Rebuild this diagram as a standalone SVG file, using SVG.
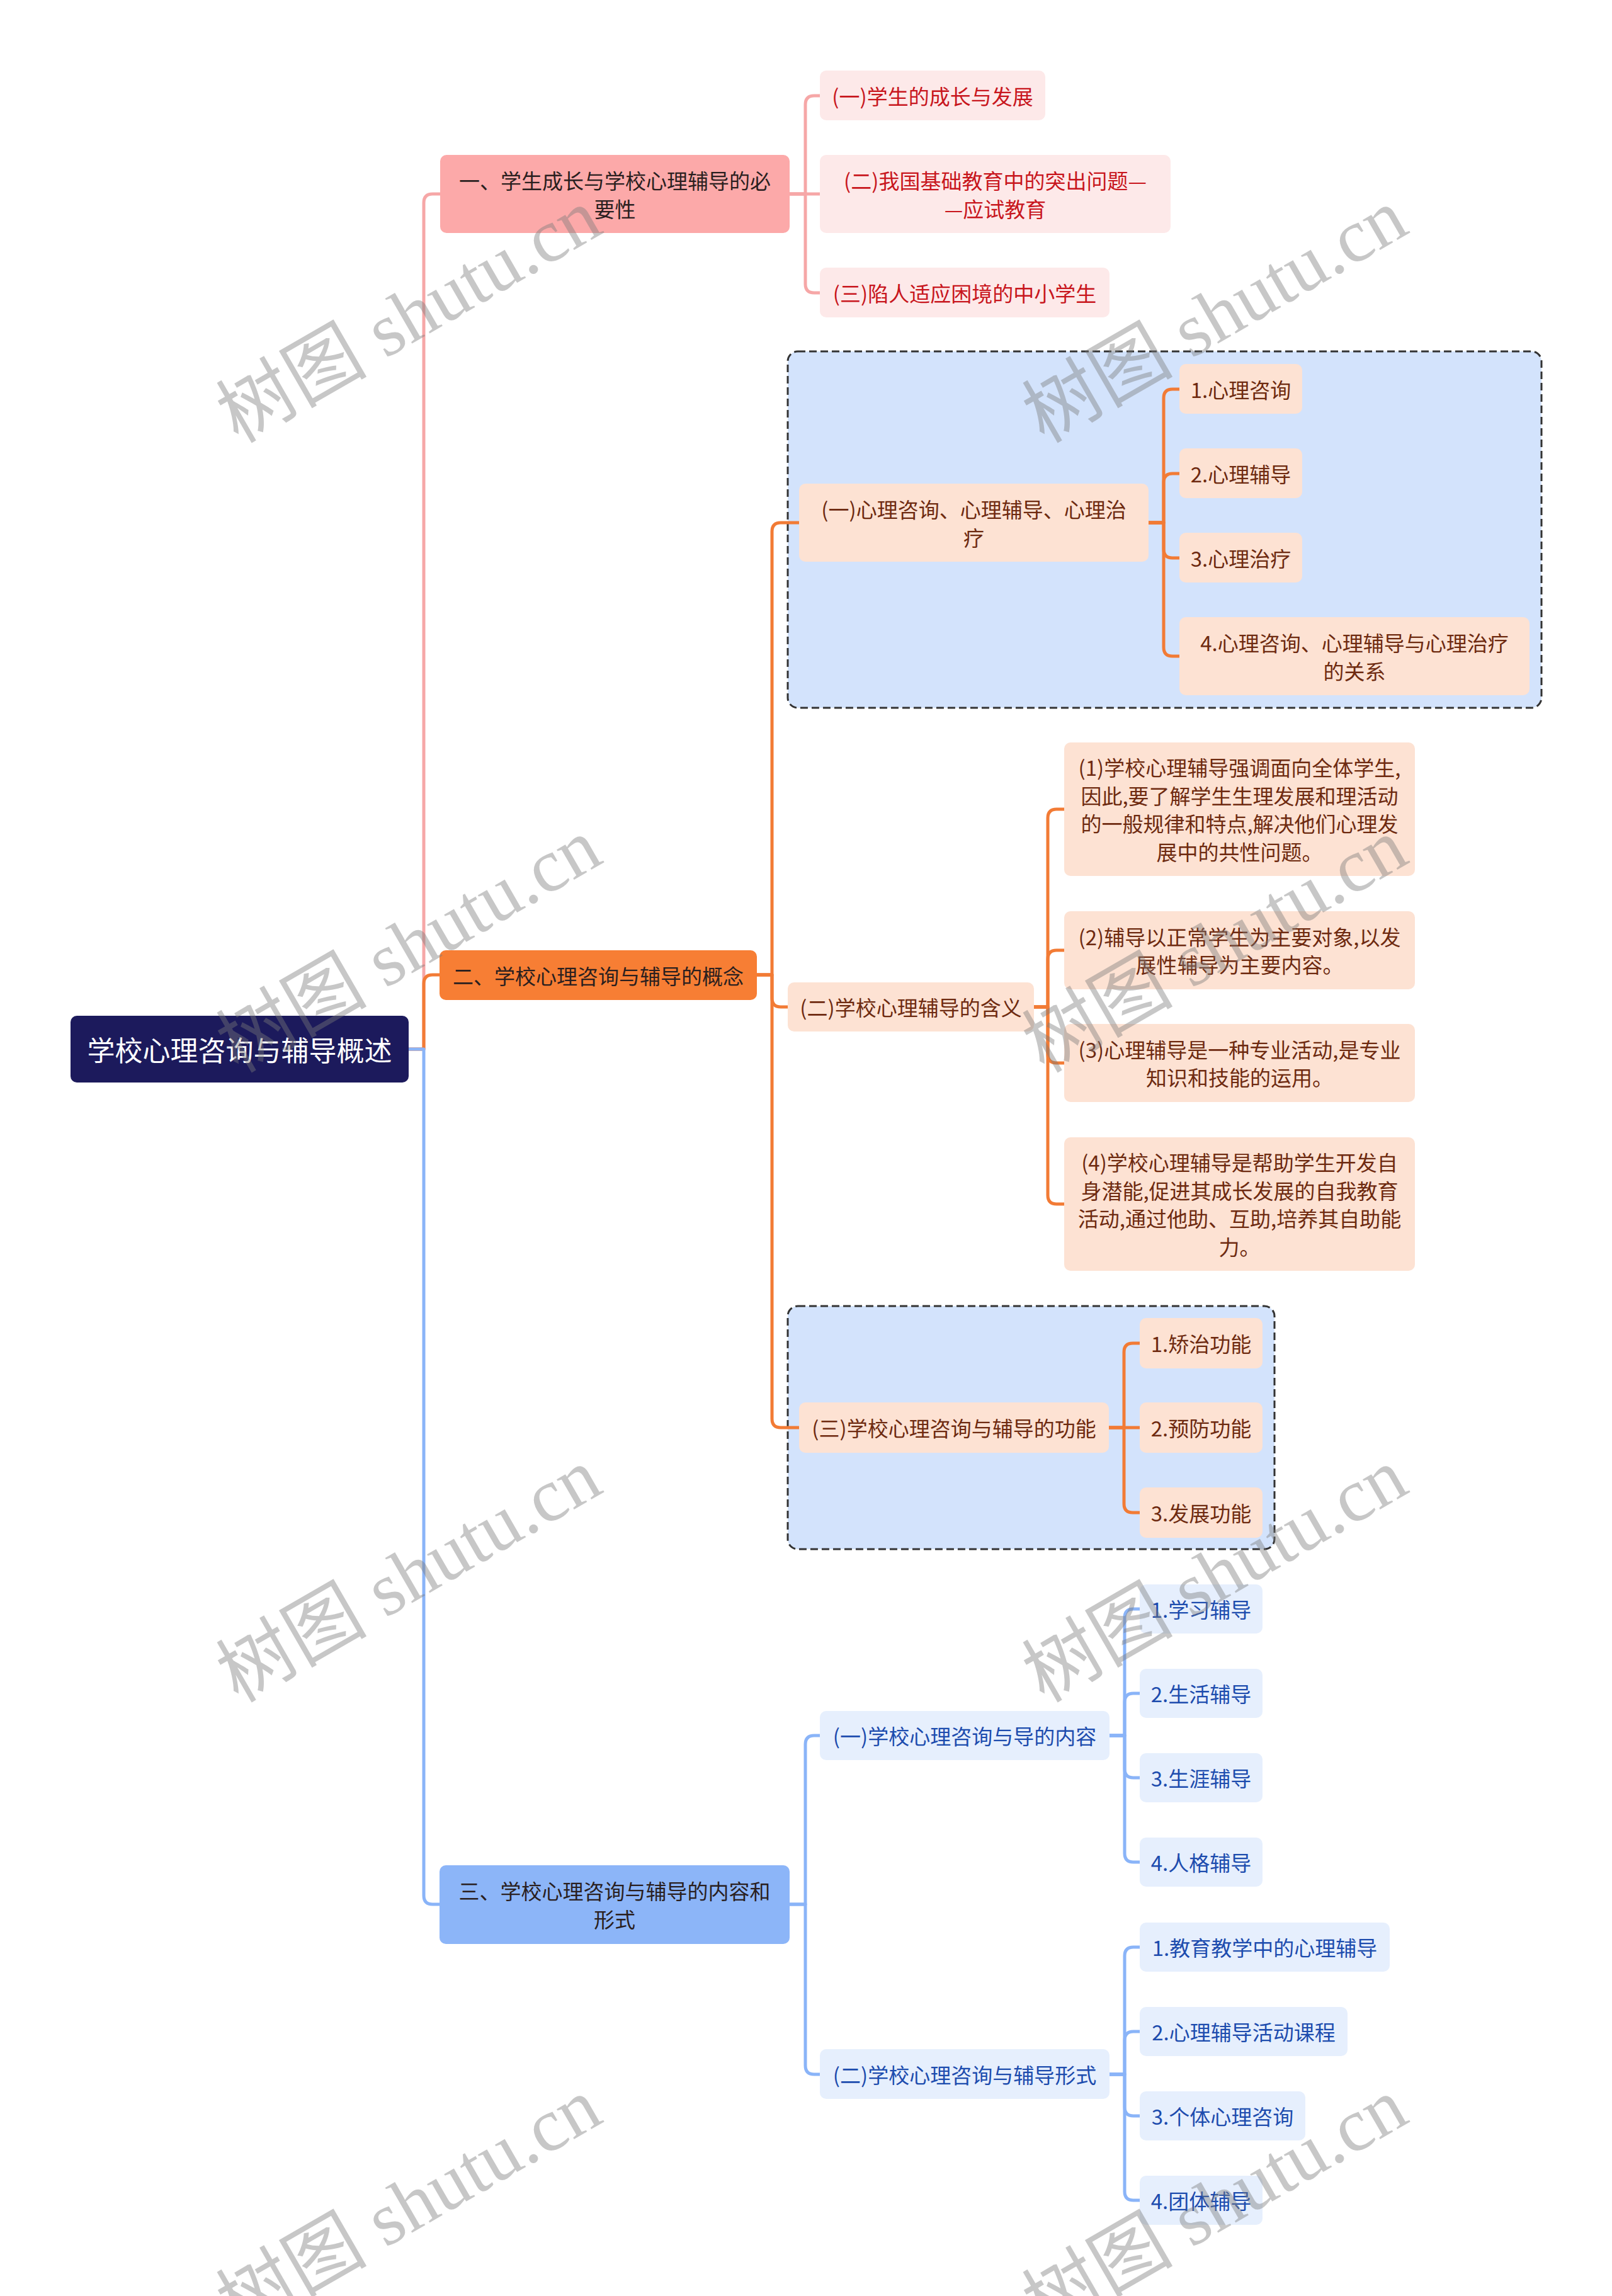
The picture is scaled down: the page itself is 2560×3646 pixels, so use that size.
<svg xmlns="http://www.w3.org/2000/svg" width="2560" height="3646" viewBox="0 0 2560 3646">
<style>
text{font-family:"Noto Sans CJK SC","Noto Sans",sans-serif;font-size:33px;text-anchor:middle;dominant-baseline:central}
.root rect{fill:#1c1a5c}
.root text{fill:#ffffff;font-size:44px}
.b1 rect{fill:#fca9a9}
.b2 rect{fill:#f77e34}
.b3 rect{fill:#8cb5f8}
.b1 text,.b2 text,.b3 text{fill:#2a1f1f}
.r rect{fill:#fde9e9}
.r text{fill:#c8161d}
.o rect{fill:#fde2d3}
.o text{fill:#6e2a10}
.u rect{fill:#e6effd}
.u text{fill:#1d4cae}
.box{fill:#d3e3fc;stroke:#333333;stroke-width:3;stroke-dasharray:12 6}
.lk{fill:none;stroke-width:5;stroke-linejoin:round}
.lp{stroke:#f6a7a7}
.lo{stroke:#f27b35}
.lb{stroke:#8ab4f8}
.wm text{font-family:"Liberation Serif","Noto Sans CJK SC",serif;font-size:120px;fill:#7a7a7a;fill-opacity:0.42;text-anchor:start;dominant-baseline:auto}
</style>
<rect width="2560" height="3646" fill="#ffffff"/>
<g id="containers">
<rect class="box" x="1251" y="558" width="1197" height="566" rx="16"/>
<rect class="box" x="1251" y="2074" width="773" height="386" rx="16"/>
</g>
<g id="connectors">
<path class="lk lp" d="M649 1666 H673 V322 Q673 308 687 308 H699"/>
<path class="lk lo" d="M649 1666 H673 V1562 Q673 1548 687 1548 H698"/>
<path class="lk lb" d="M649 1666 H673 V3010 Q673 3024 687 3024 H698"/>
<path class="lk lp" d="M1254 308 H1279 V166 Q1279 152 1293 152 H1302"/>
<path class="lk lp" d="M1254 308 H1302"/>
<path class="lk lp" d="M1254 308 H1279 V451 Q1279 465 1293 465 H1302"/>
<path class="lk lo" d="M1202 1548 H1226 V844 Q1226 830 1240 830 H1269"/>
<path class="lk lo" d="M1202 1548 H1226 V1585 Q1226 1599 1240 1599 H1251"/>
<path class="lk lo" d="M1202 1548 H1226 V2253 Q1226 2267 1240 2267 H1269"/>
<path class="lk lo" d="M1824 830 H1848 V632 Q1848 618 1862 618 H1873"/>
<path class="lk lo" d="M1824 830 H1848 V766 Q1848 752 1862 752 H1873"/>
<path class="lk lo" d="M1824 830 H1848 V872 Q1848 886 1862 886 H1873"/>
<path class="lk lo" d="M1824 830 H1848 V1028 Q1848 1042 1862 1042 H1873"/>
<path class="lk lo" d="M1642 1599 H1664 V1299 Q1664 1285 1678 1285 H1690"/>
<path class="lk lo" d="M1642 1599 H1664 V1523 Q1664 1509 1678 1509 H1690"/>
<path class="lk lo" d="M1642 1599 H1664 V1674 Q1664 1688 1678 1688 H1690"/>
<path class="lk lo" d="M1642 1599 H1664 V1898 Q1664 1912 1678 1912 H1690"/>
<path class="lk lo" d="M1761 2267 H1785 V2147 Q1785 2133 1799 2133 H1810"/>
<path class="lk lo" d="M1761 2267 H1810"/>
<path class="lk lo" d="M1761 2267 H1785 V2388 Q1785 2402 1799 2402 H1810"/>
<path class="lk lb" d="M1254 3024 H1279 V2770 Q1279 2756 1293 2756 H1302"/>
<path class="lk lb" d="M1254 3024 H1279 V3280 Q1279 3294 1293 3294 H1302"/>
<path class="lk lb" d="M1762 2756 H1786 V2569 Q1786 2555 1800 2555 H1810"/>
<path class="lk lb" d="M1762 2756 H1786 V2703 Q1786 2689 1800 2689 H1810"/>
<path class="lk lb" d="M1762 2756 H1786 V2809 Q1786 2823 1800 2823 H1810"/>
<path class="lk lb" d="M1762 2756 H1786 V2943 Q1786 2957 1800 2957 H1810"/>
<path class="lk lb" d="M1762 3294 H1786 V3106 Q1786 3092 1800 3092 H1810"/>
<path class="lk lb" d="M1762 3294 H1786 V3240 Q1786 3226 1800 3226 H1810"/>
<path class="lk lb" d="M1762 3294 H1786 V3346 Q1786 3360 1800 3360 H1810"/>
<path class="lk lb" d="M1762 3294 H1786 V3480 Q1786 3494 1800 3494 H1810"/>
</g>
<g id="root" class="root"><rect x="112" y="1613" width="537" height="106" rx="10"/><text x="380.5" y="1666">学校心理咨询与辅导概述</text></g>
<g id="b1" class="b1"><rect x="699" y="246" width="555" height="124" rx="10"/><text x="976.5" y="286">一、学生成长与学校心理辅导的必</text><text x="976.5" y="331">要性</text></g>
<g id="b2" class="b2"><rect x="698" y="1509" width="504" height="79" rx="10"/><text x="950" y="1548.5">二、学校心理咨询与辅导的概念</text></g>
<g id="b3" class="b3"><rect x="698" y="2962" width="556" height="125" rx="10"/><text x="976" y="3002">三、学校心理咨询与辅导的内容和</text><text x="976" y="3047">形式</text></g>
<g id="n11" class="r"><rect x="1302" y="112" width="358" height="79" rx="10"/><text x="1481" y="151.5">(一)学生的成长与发展</text></g>
<g id="n12" class="r"><rect x="1302" y="246" width="557" height="124" rx="10"/><text x="1580.5" y="285.5">(二)我国基础教育中的突出问题—</text><text x="1580.5" y="330.5">—应试教育</text></g>
<g id="n13" class="r"><rect x="1302" y="425" width="460" height="79" rx="10"/><text x="1532" y="464.5">(三)陷人适应困境的中小学生</text></g>
<g id="n21" class="o"><rect x="1269" y="768" width="555" height="124" rx="10"/><text x="1546.5" y="808">(一)心理咨询、心理辅导、心理治</text><text x="1546.5" y="853">疗</text></g>
<g id="n211" class="o"><rect x="1873" y="578" width="195" height="79" rx="10"/><text x="1970.5" y="617.5">1.心理咨询</text></g>
<g id="n212" class="o"><rect x="1873" y="712" width="195" height="79" rx="10"/><text x="1970.5" y="751.5">2.心理辅导</text></g>
<g id="n213" class="o"><rect x="1873" y="846" width="195" height="79" rx="10"/><text x="1970.5" y="885.5">3.心理治疗</text></g>
<g id="n214" class="o"><rect x="1873" y="980" width="556" height="124" rx="10"/><text x="2151" y="1020">4.心理咨询、心理辅导与心理治疗</text><text x="2151" y="1065">的关系</text></g>
<g id="n22" class="o"><rect x="1251" y="1560" width="391" height="78" rx="10"/><text x="1446.5" y="1599">(二)学校心理辅导的含义</text></g>
<g id="n221" class="o"><rect x="1690" y="1179" width="557" height="212" rx="10"/><text x="1968.5" y="1218">(1)学校心理辅导强调面向全体学生,</text><text x="1968.5" y="1263">因此,要了解学生生理发展和理活动</text><text x="1968.5" y="1307">的一般规律和特点,解决他们心理发</text><text x="1968.5" y="1352">展中的共性问题。</text></g>
<g id="n222" class="o"><rect x="1690" y="1447" width="557" height="124" rx="10"/><text x="1968.5" y="1487">(2)辅导以正常学生为主要对象,以发</text><text x="1968.5" y="1531">展性辅导为主要内容。</text></g>
<g id="n223" class="o"><rect x="1690" y="1626" width="557" height="124" rx="10"/><text x="1968.5" y="1666">(3)心理辅导是一种专业活动,是专业</text><text x="1968.5" y="1710">知识和技能的运用。</text></g>
<g id="n224" class="o"><rect x="1690" y="1806" width="557" height="212" rx="10"/><text x="1968.5" y="1845">(4)学校心理辅导是帮助学生开发自</text><text x="1968.5" y="1890">身潜能,促进其成长发展的自我教育</text><text x="1968.5" y="1934">活动,通过他助、互助,培养其自助能</text><text x="1968.5" y="1979">力。</text></g>
<g id="n23" class="o"><rect x="1269" y="2227" width="492" height="80" rx="10"/><text x="1515" y="2267">(三)学校心理咨询与辅导的功能</text></g>
<g id="n231" class="o"><rect x="1810" y="2093" width="195" height="80" rx="10"/><text x="1907.5" y="2133">1.矫治功能</text></g>
<g id="n232" class="o"><rect x="1810" y="2227" width="195" height="80" rx="10"/><text x="1907.5" y="2267">2.预防功能</text></g>
<g id="n233" class="o"><rect x="1810" y="2362" width="195" height="80" rx="10"/><text x="1907.5" y="2402">3.发展功能</text></g>
<g id="n31" class="u"><rect x="1302" y="2717" width="460" height="78" rx="10"/><text x="1532" y="2756">(一)学校心理咨询与导的内容</text></g>
<g id="n311" class="u"><rect x="1810" y="2516" width="195" height="78" rx="10"/><text x="1907.5" y="2555">1.学习辅导</text></g>
<g id="n312" class="u"><rect x="1810" y="2650" width="195" height="78" rx="10"/><text x="1907.5" y="2689">2.生活辅导</text></g>
<g id="n313" class="u"><rect x="1810" y="2784" width="195" height="78" rx="10"/><text x="1907.5" y="2823">3.生涯辅导</text></g>
<g id="n314" class="u"><rect x="1810" y="2918" width="195" height="78" rx="10"/><text x="1907.5" y="2957">4.人格辅导</text></g>
<g id="n32" class="u"><rect x="1302" y="3254" width="460" height="79" rx="10"/><text x="1532" y="3293.5">(二)学校心理咨询与辅导形式</text></g>
<g id="n321" class="u"><rect x="1810" y="3053" width="397" height="78" rx="10"/><text x="2008.5" y="3092">1.教育教学中的心理辅导</text></g>
<g id="n322" class="u"><rect x="1810" y="3187" width="330" height="78" rx="10"/><text x="1975" y="3226">2.心理辅导活动课程</text></g>
<g id="n323" class="u"><rect x="1810" y="3321" width="263" height="78" rx="10"/><text x="1941.5" y="3360">3.个体心理咨询</text></g>
<g id="n324" class="u"><rect x="1810" y="3455" width="195" height="78" rx="10"/><text x="1907.5" y="3494">4.团体辅导</text></g>
<g id="watermark" class="wm">
<text transform="translate(378 705) rotate(-30)">树图 shutu.cn</text>
<text transform="translate(1658 705) rotate(-30)">树图 shutu.cn</text>
<text transform="translate(378 1705) rotate(-30)">树图 shutu.cn</text>
<text transform="translate(1658 1705) rotate(-30)">树图 shutu.cn</text>
<text transform="translate(378 2705) rotate(-30)">树图 shutu.cn</text>
<text transform="translate(1658 2705) rotate(-30)">树图 shutu.cn</text>
<text transform="translate(378 3705) rotate(-30)">树图 shutu.cn</text>
<text transform="translate(1658 3705) rotate(-30)">树图 shutu.cn</text>
</g>
</svg>
